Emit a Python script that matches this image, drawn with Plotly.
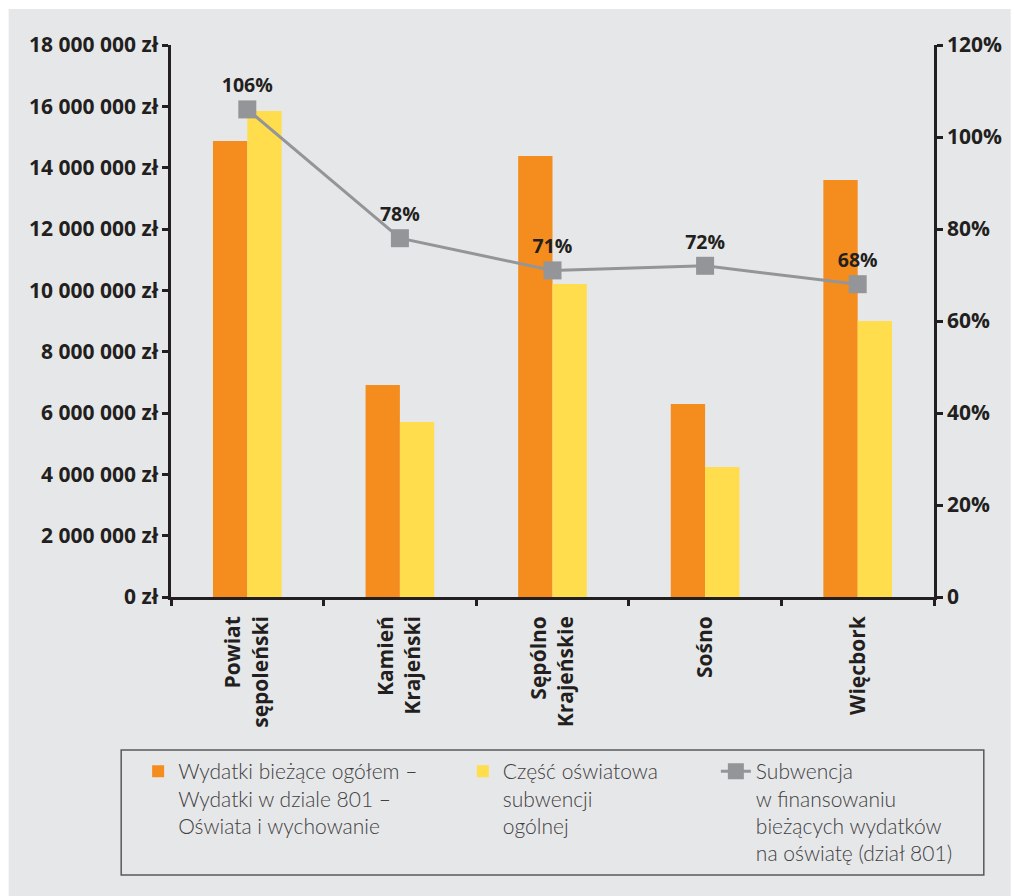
import plotly.graph_objects as go

# Gminy powiatu sępoleńskiego
categories = ["Powiat<br>sępoleński", "Kamień<br>Krajeński", "Sępólno<br>Krajeńskie", "Sośno", "Więcbork"]
wydatki_801 = [14870000, 6910000, 14380000, 6290000, 13600000]
subwencja_oswiatowa = [15850000, 5710000, 10210000, 4240000, 9000000]
udzial_subwencji = [106, 78, 71, 72, 68]

left_ticks = [0, 2e6, 4e6, 6e6, 8e6, 10e6, 12e6, 14e6, 16e6, 18e6]
left_tick_text = ["0 zł", "2 000 000 zł", "4 000 000 zł", "6 000 000 zł", "8 000 000 zł",
                  "10 000 000 zł", "12 000 000 zł", "14 000 000 zł", "16 000 000 zł", "18 000 000 zł"]
right_ticks = [0, 20, 40, 60, 80, 100, 120]
right_tick_text = ["0", "20%", "40%", "60%", "80%", "100%", "120%"]

ORANGE = "#f58d1e"
YELLOW = "#ffdd4d"
GREY = "#939598"
INK = "#231f20"
BG = "#e6e7e8"
FONT = "Open Sans"
LEGEND_FONT = dict(family="Lato", size=21, color="#414042", weight=300)

fig = go.Figure()
fig.add_trace(go.Bar(
    x=categories, y=wydatki_801, marker_color=ORANGE, marker_line_width=0,
    name="Wydatki bieżące ogółem –<br>Wydatki w dziale 801 –<br>Oświata i wychowanie",
    legend="legend", showlegend=True,
))
fig.add_trace(go.Bar(
    x=categories, y=subwencja_oswiatowa, marker_color=YELLOW, marker_line_width=0,
    name="Część oświatowa<br>subwencji<br>ogólnej",
    legend="legend2", showlegend=True,
))
fig.add_trace(go.Scatter(
    x=categories, y=udzial_subwencji, yaxis="y2", mode="lines+markers+text",
    line=dict(color=GREY, width=3), marker=dict(symbol="square", size=18, color=GREY),
    text=[f"{v}%" for v in udzial_subwencji], textposition="top center",
    textfont=dict(family=FONT, size=19.5, color=INK, weight=700),
    name="Subwencja<br>w finansowaniu<br>bieżących wydatków<br>na oświatę (dział 801)",
    legend="legend3", showlegend=True,
))

# plot area spans 171..937 px horizontally and 45..597 px vertically
def px_x(px):
    return (px - 171) / 766


def px_y(py):
    return (597 - py) / 552


def legend_at(left_px):
    return dict(
        x=px_x(left_px), y=px_y(751), xanchor="left", yanchor="top",
        bgcolor="rgba(0,0,0,0)", borderwidth=0, font=LEGEND_FONT, valign="top",
    )


tick_font = dict(family=FONT, size=21, color=INK, weight=700)

fig.update_layout(
    width=1014, height=896,
    margin=dict(l=171, r=77, t=45, b=299),
    paper_bgcolor="white", plot_bgcolor="rgba(0,0,0,0)",
    showlegend=True,
    barmode="group", bargap=0.55, bargroupgap=0,
    font=dict(family=FONT, color=INK),
    xaxis=dict(
        showgrid=False, showline=True, linecolor=INK, linewidth=2.5,
        ticks="outside", ticklen=6, tickwidth=2.5, tickcolor=INK, tickson="boundaries",
        tickangle=-90, tickfont=tick_font, ticklabelstandoff=8,
        range=[-0.5, 4.5],
    ),
    yaxis=dict(
        range=[0, 18e6], tickvals=left_ticks, ticktext=left_tick_text,
        showgrid=False, zeroline=False, showline=True, linecolor=INK, linewidth=2.5,
        ticks="outside", ticklen=6, tickwidth=2.5, tickcolor=INK, tickfont=tick_font,
    ),
    yaxis2=dict(
        overlaying="y", side="right", range=[0, 120],
        tickvals=right_ticks, ticktext=right_tick_text,
        showgrid=False, zeroline=False, showline=True, linecolor=INK, linewidth=2.5,
        ticks="outside", ticklen=6, tickwidth=2.5, tickcolor=INK, tickfont=tick_font,
    ),
    legend=legend_at(138),
    legend2=legend_at(464),
    legend3=legend_at(718),
    shapes=[
        dict(type="rect", xref="paper", yref="paper", layer="below",
             x0=px_x(8), x1=px_x(1014), y0=px_y(896), y1=px_y(9),
             fillcolor=BG, line_width=0),
        dict(type="rect", xref="paper", yref="paper", layer="below",
             x0=px_x(121), x1=px_x(987), y0=px_y(875), y1=px_y(750),
             fillcolor="rgba(0,0,0,0)", line=dict(color="#58595b", width=1.5)),
    ],
)

fig.write_html("out.html")
